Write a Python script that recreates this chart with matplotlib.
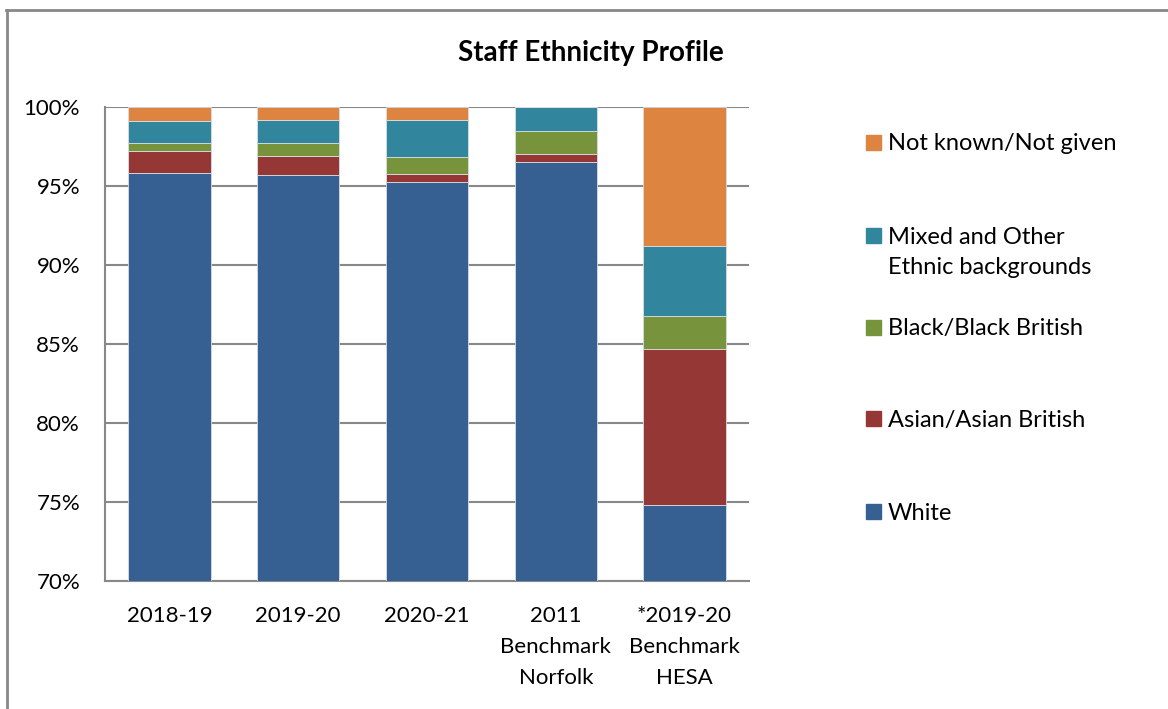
import matplotlib.pyplot as plt
import matplotlib.patches as mpatches
from matplotlib.lines import Line2D
import numpy as np

plt.rcParams['font.family'] = ['Lato', 'DejaVu Sans']

## data (percent of staff)
categories = ['2018-19', '2019-20', '2020-21', '2011\nBenchmark\nNorfolk', '*2019-20\nBenchmark\nHESA']
white = [95.8, 95.7, 95.25, 96.5, 74.8]
asian = [1.4, 1.2, 0.5, 0.5, 9.9]
black = [0.5, 0.8, 1.1, 1.5, 2.1]
mixed = [1.4, 1.5, 2.3, 1.5, 4.4]
not_known = [0.9, 0.8, 0.85, 0.0, 8.8]

series_names = ['White', 'Asian/Asian British', 'Black/Black British',
                'Mixed and Other\nEthnic backgrounds', 'Not known/Not given']
colors = ['#366092', '#953735', '#77933C', '#31859C', '#DD8540']

W, H = 1168, 709
fig = plt.figure(figsize=(W / 100, H / 100), dpi=100)
ax = fig.add_axes([105 / W, 1 - 581 / H, (749 - 105) / W, (581 - 107) / H])

x = np.arange(len(categories))
bottom = np.zeros(len(categories))
for vals, c in zip([white, asian, black, mixed, not_known], colors):
    ax.bar(x, vals, bottom=bottom, width=0.64, color=c, edgecolor='#d9dde6', linewidth=0.6, zorder=3)
    bottom = bottom + np.array(vals)

ax.set_ylim(70, 100)
ax.set_xlim(-0.5, len(categories) - 0.5)
ax.set_yticks(np.arange(70, 101, 5))
ax.set_yticklabels([str(v) + '%' for v in range(70, 101, 5)], fontsize=16)
ax.yaxis.grid(True, color='#888888', linewidth=1.5, zorder=0)
ax.set_xticks(x)
ax.set_xticklabels(categories, fontsize=16, linespacing=1.7)
ax.tick_params(axis='both', length=0)
ax.tick_params(axis='x', pad=18)
ax.tick_params(axis='y', pad=18)
for s in ['top', 'right']:
    ax.spines[s].set_visible(False)
for s in ['left', 'bottom']:
    ax.spines[s].set_color('#888888')
    ax.spines[s].set_linewidth(1.5)

fig.text(591 / W, 1 - 53 / H, 'Staff Ethnicity Profile', ha='center', va='center',
         fontsize=20, fontweight='bold')

## legend drawn by hand, top entry first
leg_y = [142, 235, 327, 419, 511]
for name, c, yy in zip(series_names[::-1], colors[::-1], leg_y):
    fig.patches.append(mpatches.Rectangle((866 / W, 1 - (yy + 7.5) / H), 15 / W, 15 / H,
                                          transform=fig.transFigure, color=c))
    ty = yy + 17.5 if '\n' in name else yy + 2
    fig.text(888 / W, 1 - ty / H, name, ha='left', va='center',
             fontsize=17, linespacing=1.55)

## outer frame
fig.lines.append(Line2D([6 / W, 1], [1 - 10 / H, 1 - 10 / H], transform=fig.transFigure,
                        color='#888888', linewidth=2))
fig.lines.append(Line2D([7 / W, 7 / W], [0, 1 - 10 / H], transform=fig.transFigure,
                        color='#888888', linewidth=2))

fig.savefig('out.png', dpi=100)
